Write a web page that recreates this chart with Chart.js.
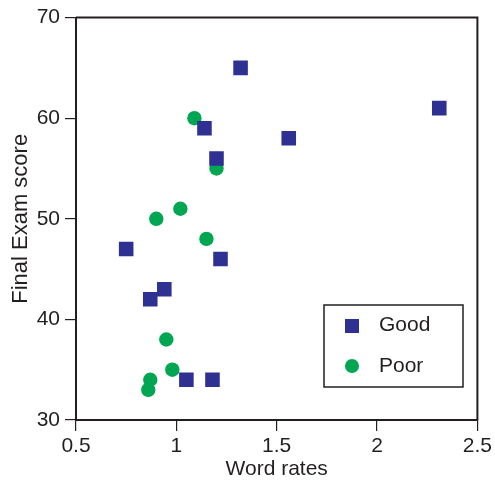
<!DOCTYPE html>
<html>
<head>
<meta charset="utf-8">
<script src="https://cdn.jsdelivr.net/npm/chart.js@4"></script>
<style>
  html, body { margin: 0; padding: 0; background: #fff; }
  #wrap { width: 495px; height: 485px; }
</style>
</head>
<body>
<div id="wrap"><canvas id="chart"></canvas></div>
<script>
// ── data ─────────────────────────────────────────────────────────
const goodX = [1.32, 2.31, 1.56, 1.14, 1.20, 0.75, 1.22, 0.87, 0.94, 1.05, 1.18];
const goodY = [65, 61, 58, 59, 56, 47, 46, 42, 43, 34, 34];
const poorX = [1.09, 1.20, 1.02, 0.90, 1.15, 0.95, 0.98, 0.87, 0.86];
const poorY = [60, 55, 51, 50, 48, 38, 35, 34, 33];
const xTicks = [0.5, 1, 1.5, 2, 2.5];
const yTicks = [30, 40, 50, 60, 70];

const BLUE  = "#2e3192";
const GREEN = "#00a651";
const INK   = "#231f20";
const FONT  = "'Liberation Sans', Arial, sans-serif";

const toPts = (xs, ys) => xs.map((x, i) => ({ x, y: ys[i] }));

// frame (top/right) + legend box inside the plot
const framePlugin = {
  id: "frame",
  afterDraw(chart) {
    const { ctx, chartArea: a } = chart;
    ctx.save();
    ctx.strokeStyle = INK;
    ctx.lineWidth = 2;
    ctx.beginPath();
    ctx.moveTo(a.left, a.top);
    ctx.lineTo(a.right, a.top);
    ctx.lineTo(a.right, a.bottom);
    ctx.stroke();

    // legend
    const lx = 324, ly = 305, lw = 139, lh = 82;
    ctx.lineWidth = 1.5;
    ctx.strokeRect(lx, ly, lw, lh);
    ctx.font = "21px " + FONT;
    ctx.textBaseline = "middle";
    ctx.fillStyle = BLUE;
    ctx.fillRect(345, 319, 14, 14);
    ctx.fillStyle = GREEN;
    ctx.beginPath();
    ctx.arc(352, 366, 7, 0, Math.PI * 2);
    ctx.fill();
    ctx.fillStyle = INK;
    ctx.fillText("Good", 379, 325);
    ctx.fillText("Poor", 379, 366);
    ctx.restore();
  },
};

new Chart(document.getElementById("chart"), {
  type: "scatter",
  data: {
    datasets: [
      {
        label: "Good",
        data: toPts(goodX, goodY),
        pointStyle: "rect",
        pointRadius: 10.3,
        pointBackgroundColor: BLUE,
        pointBorderWidth: 0,
      },
      {
        label: "Poor",
        data: toPts(poorX, poorY),
        pointStyle: "circle",
        pointRadius: 7.2,
        pointBackgroundColor: GREEN,
        pointBorderWidth: 0,
      },
    ],
  },
  options: {
    responsive: true,
    maintainAspectRatio: false,
    animation: false,
    layout: { padding: { left: 0, top: 17, right: 17, bottom: 0 } },
    plugins: { legend: { display: false }, tooltip: { enabled: false } },
    scales: {
      x: {
        type: "linear",
        min: 0.5,
        max: 2.5,
        afterBuildTicks: s => { s.ticks = xTicks.map(v => ({ value: v })); },
        afterFit: s => { s.height = 65; },
        grid: { drawOnChartArea: false, drawTicks: true, tickLength: 11, color: INK, lineWidth: 1.2 },
        border: { display: true, color: INK, width: 2 },
        ticks: { color: INK, font: { family: FONT, size: 21 }, padding: 3, maxRotation: 0, callback: v => String(v) },
        title: {
          display: true, text: "Word rates", color: INK,
          font: { family: FONT, size: 21 }, padding: { top: 0, bottom: 3 },
        },
      },
      y: {
        type: "linear",
        min: 30,
        max: 70,
        afterBuildTicks: s => { s.ticks = yTicks.map(v => ({ value: v })); },
        afterFit: s => { s.width = 76; },
        grid: { drawOnChartArea: false, drawTicks: true, tickLength: 11, color: INK, lineWidth: 1.2 },
        border: { display: true, color: INK, width: 2 },
        ticks: { color: INK, font: { family: FONT, size: 21 }, padding: 5 },
        title: {
          display: true, text: "Final Exam score", color: INK,
          font: { family: FONT, size: 22 }, padding: { top: 8, bottom: 0 },
        },
      },
    },
  },
  plugins: [framePlugin],
});
</script>
</body>
</html>
